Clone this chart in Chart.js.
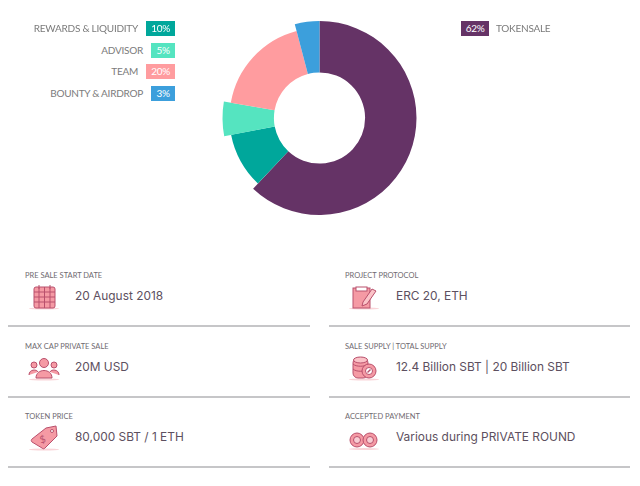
<!DOCTYPE html>
<html>
<head>
<meta charset="utf-8">
<script src="https://cdn.jsdelivr.net/npm/chart.js@4"></script>
<style>
  html, body { margin: 0; padding: 0; background: #fff; }
  #page { position: relative; width: 640px; height: 486px; overflow: hidden; }
  #tokenChart { position: absolute; left: 210px; top: 8px; }
  .leg { position: absolute; font: 10px/15px Lato, sans-serif; letter-spacing: -0.25px; color: #7b7b7b; white-space: nowrap; }
  .badge { position: absolute; height: 15px; color: #fff; text-align: center; font: 10px/15px Lato, sans-serif; letter-spacing: -0.3px; }
  .lab { position: absolute; font: 7.5px/10px Lato, sans-serif; color: #6f6a70; white-space: nowrap; }
  .val { position: absolute; font: 11.9px/16px Inter, sans-serif; color: #5d5060; white-space: nowrap; }
  .rule { position: absolute; height: 2px; background: #c6c6c8; }
  svg.ic { position: absolute; width: 36px; height: 26px; }
</style>
</head>
<body>
<div id="page">
  <canvas id="tokenChart" width="219" height="220"></canvas>
</div>
<script>
/* 配分チャート */
const sliceNames = ['TOKENSALE', 'REWARDS & LIQUIDITY', 'ADVISOR', 'TEAM', 'BOUNTY & AIRDROP'];
// 図の角度から読んだ値（ラベルの数字とは少しずれている）
const sliceValues = [62, 10, 5.7, 18.2, 4.1];
const percentLabels = ['62%', '10%', '5%', '20%', '3%'];
const sliceColors = ['#653366', '#00a79b', '#55e4c0', '#ff9c9f', '#3c9fdc'];
const shortSlices = ['REWARDS & LIQUIDITY', 'TEAM'];

const infoLabels = ['PRE SALE START DATE', 'MAX CAP PRIVATE SALE', 'TOKEN PRICE', 'PROJECT PROTOCOL', 'SALE SUPPLY | TOTAL SUPPLY', 'ACCEPTED PAYMENT'];
const infoValues = ['20 August 2018', '20M USD', '80,000 SBT / 1 ETH', 'ERC 20, ETH', '12.4 Billion SBT | 20 Billion SBT', 'Various during PRIVATE ROUND'];

const SHORT_RADIUS = 90;

/* ===== 凡例の位置 ===== */
const legendPos = {
  'REWARDS & LIQUIDITY': { textRight: 138, badge: 146, w: 29, top: 21 },
  'ADVISOR':             { textRight: 143, badge: 151, w: 24, top: 43 },
  'TEAM':                { textRight: 138, badge: 146, w: 29, top: 64 },
  'BOUNTY & AIRDROP':    { textRight: 143, badge: 151, w: 24, top: 86 },
};

const page = document.getElementById('page');

function addEl(cls, text, css) {
  const el = document.createElement('div');
  el.className = cls;
  el.textContent = text;
  Object.assign(el.style, css);
  page.appendChild(el);
  return el;
}

sliceNames.forEach((name, i) => {
  if (name === 'TOKENSALE') {
    addEl('badge', percentLabels[i], { left: '461px', top: '21px', width: '28px', background: sliceColors[i] });
    addEl('leg', name, { left: '496px', top: '21px' });
    return;
  }
  const p = legendPos[name];
  addEl('leg', name, { right: (640 - p.textRight) + 'px', top: p.top + 'px' });
  addEl('badge', percentLabels[i], { left: p.badge + 'px', top: p.top + 'px', width: p.w + 'px', background: sliceColors[i] });
});

/* ===== 下の情報欄 ===== */
const PK = '#f59aa4', ST = '#b9506c';
const SHADOW = '<ellipse cx="18" cy="24.5" rx="15" ry="1" fill="#f9d5d9"/>';
const icons = [
  // カレンダー
  `${SHADOW}<rect x="8" y="3" width="21" height="21" rx="2" fill="${PK}" stroke="${ST}"/><path d="M8 8h21M8 13h21M8 18h21M13 3v21M18.500 3v21M24 3v21M13 1v4M24 1v4" stroke="${ST}" fill="none"/>`,
  // 人
  `${SHADOW}<circle cx="18" cy="8" r="4.500" fill="${PK}" stroke="${ST}"/><circle cx="8" cy="10" r="3" fill="${PK}" stroke="${ST}"/><circle cx="28" cy="10" r="3" fill="${PK}" stroke="${ST}"/><path d="M3 20c0-6 8-6 9-3M33 20c0-6-8-6-9-3" fill="${PK}" stroke="${ST}"/><path d="M10 23c0-10 16-10 16 0z" fill="${PK}" stroke="${ST}"/>`,
  // 値札
  `${SHADOW}<path d="M6 14L20 3l10-2 1 10-12 12c-1 1-2 1-3 0L6 17c-1-1-1-2 0-3z" fill="${PK}" stroke="${ST}"/><circle cx="26" cy="6" r="1.500" fill="#fff" stroke="${ST}"/><text x="14" y="18" font-family="Lato" font-size="10" fill="${ST}" transform="rotate(-15 16 15)">$</text>`,
  // クリップボード
  `${SHADOW}<rect x="7" y="4" width="17" height="20" fill="${PK}" stroke="${ST}"/><rect x="10" y="3" width="11" height="4" fill="#fff" stroke="${ST}"/><path d="M17 18l9-13 4 2-9 13-5 2z" fill="#fbc3c8" stroke="${ST}"/>`,
  // コイン
  `${SHADOW}<rect x="7" y="3" width="15" height="20" rx="5" fill="${PK}" stroke="${ST}"/><path d="M7 9c3 3 12 3 15 0M7 14c3 3 12 3 15 0" stroke="${ST}" fill="none"/><ellipse cx="14.500" cy="5" rx="7" ry="3" fill="#fbc3c8" stroke="${ST}"/><circle cx="23" cy="16" r="7" fill="${PK}" stroke="${ST}"/><circle cx="23" cy="16" r="3.500" fill="#fff" stroke="${ST}"/><path d="M21.500 17.500l3-3" stroke="${ST}" stroke-width="1.500"/>`,
  // 支払い
  `<ellipse cx="18" cy="24" rx="15" ry="1" fill="#f9d5d9"/><circle cx="11" cy="15" r="7" fill="${PK}" stroke="${ST}"/><circle cx="24" cy="15" r="7" fill="${PK}" stroke="${ST}"/><circle cx="11" cy="15" r="3.500" fill="#f8ccd2" stroke="${ST}"/><circle cx="24" cy="15" r="3.500" fill="#f8ccd2" stroke="${ST}"/>`,
];

const rowTops = [271, 342, 412];
const ruleTops = [325, 396, 466];

infoLabels.forEach((label, i) => {
  const right = i >= 3;
  const row = i % 3;
  const labelX = right ? 345 : 25;
  const valueX = right ? 396 : 75;
  const iconX = right ? 346 : 26;
  addEl('lab', label, { left: labelX + 'px', top: rowTops[row] + 'px' });
  addEl('val', infoValues[i], { left: valueX + 'px', top: (rowTops[row] + 17) + 'px' });
  addEl('rule', '', { left: (right ? 329 : 8) + 'px', width: (right ? 301 : 302) + 'px', top: ruleTops[row] + 'px' });
  const holder = document.createElement('div');
  holder.innerHTML = `<svg class="ic" viewBox="0 0 36 26" style="left:${iconX}px;top:${rowTops[row] + 13}px">${icons[i]}</svg>`;
  page.appendChild(holder);
});

/* ===== ドーナツ ===== */
// 一部の扇だけ外径を小さくする
const shortenSlices = {
  id: 'shortenSlices',
  afterDatasetUpdate(chart, args) {
    const arcs = chart.getDatasetMeta(args.index).data;
    sliceNames.forEach((name, i) => {
      if (shortSlices.includes(name)) arcs[i].outerRadius = SHORT_RADIUS;
    });
  },
};

new Chart(document.getElementById('tokenChart'), {
  type: 'doughnut',
  data: {
    labels: sliceNames,
    datasets: [{
      data: sliceValues,
      backgroundColor: sliceColors,
      borderWidth: 0,
      hoverOffset: 0,
    }],
  },
  options: {
    responsive: false,
    animation: false,
    cutout: '47%',
    layout: { padding: 12.5 },
    plugins: { legend: { display: false }, tooltip: { enabled: false } },
  },
  plugins: [shortenSlices],
});
</script>
</body>
</html>
